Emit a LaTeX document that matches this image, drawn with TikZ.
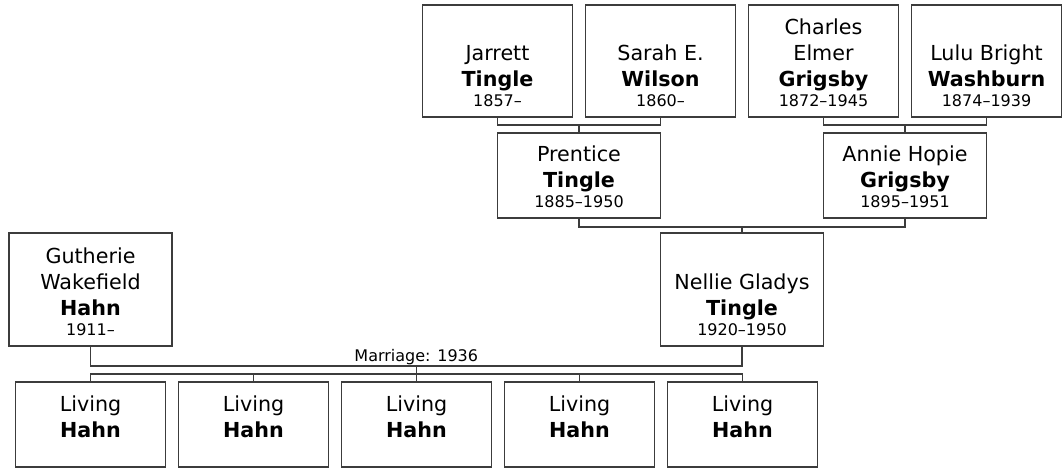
\documentclass[tikz,border=0pt]{standalone}
\usepackage{fontspec}
\setmainfont{DejaVu Sans}
\usepackage{tikz}
\usetikzlibrary{positioning,calc}
\definecolor{treegray}{RGB}{60,60,60}
\newcommand{\namefont}{\fontsize{15.5pt}{19.5pt}\selectfont}
\newcommand{\datefont}{\fontsize{12pt}{15pt}\selectfont}
\newcommand{\famcard}[4]{\parbox[c][#1][b]{105pt}{\centering\namefont #2\par
  \textbf{#3}\par\datefont\mbox{}#4\par\vspace{7.5pt}}}
\tikzset{
  person/.style={draw=treegray,line width=0.8pt,fill=white,
    inner sep=0pt,outer sep=0pt},
  elderbox/.style={person,minimum width=112.5pt,minimum height=84pt},
  parentbox/.style={person,minimum width=122.25pt,minimum height=63.75pt},
  spousebox/.style={person,minimum width=122.25pt,minimum height=84.75pt},
  kidbox/.style={person,minimum width=112.5pt,minimum height=63.75pt},
  link/.style={draw=treegray,line width=0.8pt},
  marriagelabel/.style={inner sep=0.5pt,font=\fontsize{12pt}{14pt}\selectfont}
}
\begin{document}
\begin{tikzpicture}[x=0.75pt,y=-0.75pt,node distance=6pt and 9.75pt]
\useasboundingbox (0,0) rectangle (1062,468);
% grandparents
\node[elderbox] (jarrett) at (497.5,61) {\famcard{84pt}{Jarrett}{Tingle}{1857–}};
\node[elderbox, right=of jarrett] (sarah) {\famcard{84pt}{Sarah E.}{Wilson}{1860–}};
\node[elderbox, right=of sarah] (charles) {\famcard{84pt}{Charles\\Elmer}{Grigsby}{1872–1945}};
\node[elderbox, right=of charles] (lulu) {\famcard{84pt}{Lulu Bright}{Washburn}{1874–1939}};
% parents
\coordinate (tinglefork) at ($(jarrett.south)!.5!(sarah.south)+(0,8)$);
\coordinate (grigsbyfork) at ($(charles.south)!.5!(lulu.south)+(0,8)$);
\node[parentbox, below=of tinglefork] (prentice) {\famcard{63.75pt}{Prentice}{Tingle}{1885–1950}};
\node[parentbox, below=of grigsbyfork] (annie) {\famcard{63.75pt}{Annie Hopie}{Grigsby}{1895–1951}};
\draw[link] (jarrett.south) |- (tinglefork) -| (sarah.south);
\draw[link] (tinglefork) -- (prentice.north);
\draw[link] (charles.south) |- (grigsbyfork) -| (lulu.south);
\draw[link] (grigsbyfork) -- (annie.north);
% couple
\coordinate (nelliefork) at ($(prentice.south)!.5!(annie.south)+(0,9)$);
\node[spousebox, below=4.5pt of nelliefork] (nellie) {\famcard{84.75pt}{Nellie Gladys}{Tingle}{1920–1950}};
\node[spousebox] (gutherie) at (90.5,289.5) {\famcard{84.75pt}{Gutherie\\Wakefield}{Hahn}{1911–}};
\draw[link] (prentice.south) |- (nelliefork) -| (annie.south);
\draw[link] (nelliefork) -- (nellie.north);
\coordinate (hahnfork) at ($(gutherie.south)!.5!(nellie.south)+(0,20)$);
\draw[link] (gutherie.south) |- (hahnfork) -| (nellie.south);
\node[marriagelabel, above=0pt of hahnfork] (marriage) {Marriage: 1936};
% children
\node[kidbox, below=27pt of gutherie] (living1) {\famcard{63.75pt}{Living}{Hahn}{}};
\node[kidbox, right=of living1] (living2) {\famcard{63.75pt}{Living}{Hahn}{}};
\node[kidbox, right=of living2] (living3) {\famcard{63.75pt}{Living}{Hahn}{}};
\node[kidbox, right=of living3] (living4) {\famcard{63.75pt}{Living}{Hahn}{}};
\node[kidbox, right=of living4] (living5) {\famcard{63.75pt}{Living}{Hahn}{}};
\coordinate (kidfork) at ($(hahnfork)+(0,8)$);
\draw[link] (hahnfork) -- (kidfork);
\draw[link] (living1.north) |- (kidfork) -| (living5.north);
\draw[link] (living2.north) -- (living2.north |- kidfork);
\draw[link] (living3.north) -- (living3.north |- kidfork);
\draw[link] (living4.north) -- (living4.north |- kidfork);
\end{tikzpicture}
\end{document}
